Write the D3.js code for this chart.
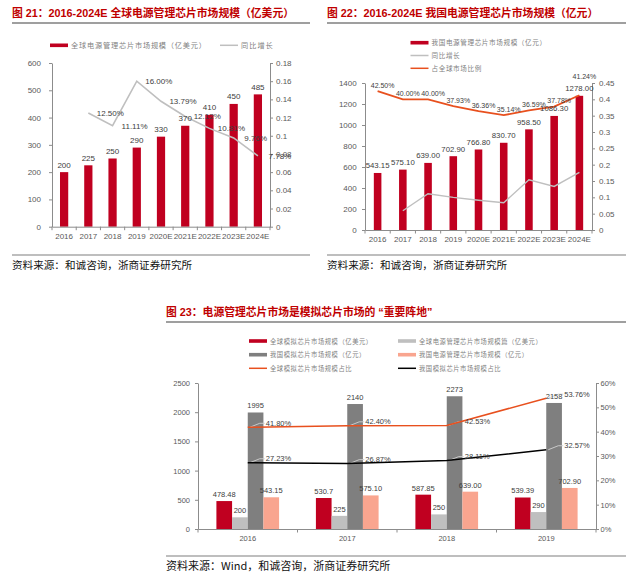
<!DOCTYPE html>
<html>
<head>
<meta charset="utf-8">
<script src="https://cdn.jsdelivr.net/npm/d3@7"></script>
<style>
body { margin: 0; background: #fff; }
svg text { font-family: "Liberation Sans", "Noto Sans CJK SC", sans-serif; }
</style>
</head>
<body>
<svg id="chart" width="640" height="575"></svg>
<script>
// ---- chart 21: global power management chip market (USD 100m)
var years1 = ["2016", "2017", "2018", "2019", "2020E", "2021E", "2022E", "2023E", "2024E"];
var globalPower = [200, 225, 250, 290, 330, 370, 410, 450, 485];
var globalGrowth = [null, 0.125, 0.1111, 0.16, 0.1379, 0.1212, 0.1081, 0.0976, 0.0778];
var leftTicks1 = [0, 100, 200, 300, 400, 500, 600];
var rightTicks1 = [0, 0.02, 0.04, 0.06, 0.08, 0.1, 0.12, 0.14, 0.16, 0.18];

// ---- chart 22: China power management chip market (RMB 100m)
var chinaPower = [543.15, 575.10, 639.00, 702.90, 766.80, 830.70, 958.50, 1086.30, 1278.00];
var chinaGrowth = [null, 0.0588, 0.1111, 0.1000, 0.0909, 0.0833, 0.1538, 0.1333, 0.1765];
var chinaShare = [0.4250, 0.4000, 0.4000, 0.3793, 0.3636, 0.3514, 0.3659, 0.3778, 0.4124];
var leftTicks2 = [0, 200, 400, 600, 800, 1000, 1200, 1400];
var rightTicks2 = [0, 0.05, 0.1, 0.15, 0.2, 0.25, 0.3, 0.35, 0.4, 0.45];

// ---- chart 23: analog vs power management
var years3 = ["2016", "2017", "2018", "2019"];
var globalAnalog = [478.48, 530.7, 587.85, 539.39];
var globalPower3 = [200, 225, 250, 290];
var chinaAnalog = [1995, 2140, 2273, 2158];
var chinaPower3 = [543.15, 575.10, 639.00, 702.90];
var globalAnalogShare = [0.4180, 0.4240, 0.4253, 0.5376];
var chinaAnalogShare = [0.2723, 0.2687, 0.2811, 0.3257];
var leftTicks3 = [0, 500, 1000, 1500, 2000, 2500];
var rightTicks3 = [0, 0.1, 0.2, 0.3, 0.4, 0.5, 0.6];

var RED = "#C00020", ORANGE = "#E8501E", LGRAY = "#BFBFBF", DGRAY = "#7F7F7F", SALMON = "#F9A58F";
var AXIS = "#8C8C8C", TICKTXT = "#595959", LBL = "#404040", LEGTXT = "#7F7F7F";

var svg = d3.select("#chart");

function styleAxis(g, fs) {
  g.select(".domain").attr("stroke", AXIS);
  g.selectAll(".tick line").attr("stroke", AXIS);
  g.selectAll(".tick text").attr("fill", TICKTXT).attr("font-size", fs)
   .style("font-family", "Liberation Sans, sans-serif");
}

function header(x1, x2, y, txt) {
  svg.append("text").attr("x", x1).attr("y", y).attr("fill", "#C00000")
     .attr("font-size", 10.8).attr("font-weight", "bold").text(txt);
  svg.append("line").attr("x1", x1).attr("x2", x2).attr("y1", y + 6).attr("y2", y + 6)
     .attr("stroke", "#7F7F7F").attr("stroke-width", 1.5);
}

function footer(x1, x2, y, txt, fs) {
  svg.append("line").attr("x1", x1).attr("x2", x2).attr("y1", y - 14).attr("y2", y - 14)
     .attr("stroke", "#7F7F7F").attr("stroke-width", 1.2);
  svg.append("text").attr("x", x1).attr("y", y).attr("fill", "#111")
     .attr("font-size", fs).style("font-family", "Noto Sans CJK SC, sans-serif").text(txt);
}

function legendItem(x, y, kind, color, txt, fs, ls) {
  if (kind == "rect") {
    svg.append("rect").attr("x", x).attr("y", y - 1.8).attr("width", 18).attr("height", 3.6).attr("fill", color);
  } else {
    svg.append("line").attr("x1", x).attr("x2", x + 18).attr("y1", y).attr("y2", y)
       .attr("stroke", color).attr("stroke-width", 1.5);
  }
  svg.append("text").attr("x", x + 21).attr("y", y + 2.5).attr("fill", LEGTXT)
     .attr("font-size", fs).attr("letter-spacing", ls)
     .style("font-family", "Noto Sans CJK SC, sans-serif").text(txt);
}

function boundaryTicks(x, n, y) {
  var step = x.step(), x0 = x.range()[0];
  for (var i = 0; i <= n; i++) {
    svg.append("line").attr("x1", x0 + i * step).attr("x2", x0 + i * step)
       .attr("y1", y).attr("y2", y + 3.5).attr("stroke", AXIS);
  }
}

function fmtNum(d) { return String(+d.toFixed(2)); }
function pct(d) { return (d * 100).toFixed(2) + "%"; }
var intFmt = d3.format("d");

// ================= chart 21 =================
header(12, 310, 17, "图 21：2016-2024E 全球电源管理芯片市场规模（亿美元）");
legendItem(50, 45.3, "rect", RED, "全球电源管理芯片市场规模（亿美元）", 7.2, 0.8);
legendItem(220, 45.3, "line", LGRAY, "同比增长", 7.2, 1);

var x1 = d3.scaleBand().domain(years1).range([52, 270]).paddingInner(0.66).paddingOuter(0.33);
var yL1 = d3.scaleLinear().domain([0, 600]).range([226.7, 63]);
var yR1 = d3.scaleLinear().domain([0, 0.18]).range([226.7, 63]);

var c1 = svg.append("g");
c1.selectAll("rect.bar").data(globalPower).enter().append("rect")
  .attr("x", function(d, i) { return x1(years1[i]); })
  .attr("y", function(d) { return yL1(d); })
  .attr("width", x1.bandwidth())
  .attr("height", function(d) { return yL1(0) - yL1(d); })
  .attr("fill", RED);

c1.append("g").attr("transform", "translate(52,0)")
  .call(d3.axisLeft(yL1).tickValues(leftTicks1).tickSize(3).tickSizeOuter(0).tickPadding(8).tickFormat(intFmt))
  .call(styleAxis, 8);
c1.append("g").attr("transform", "translate(270,0)")
  .call(d3.axisRight(yR1).tickValues(rightTicks1).tickSize(3).tickSizeOuter(0).tickPadding(3).tickFormat(fmtNum))
  .call(styleAxis, 8);
c1.append("g").attr("transform", "translate(0,226.7)")
  .call(d3.axisBottom(x1).tickSize(0).tickPadding(6.6))
  .call(styleAxis, 8);
boundaryTicks(x1, years1.length, 226.7);

var line1 = d3.line().defined(function(d) { return d != null; })
  .x(function(d, i) { return x1(years1[i]) + x1.bandwidth() / 2; })
  .y(function(d) { return yR1(d); });
c1.append("path").datum(globalGrowth).attr("d", line1)
  .attr("fill", "none").attr("stroke", LGRAY).attr("stroke-width", 1.6);

c1.selectAll("text.blab").data(globalPower).enter().append("text")
  .attr("x", function(d, i) { return x1(years1[i]) + x1.bandwidth() / 2; })
  .attr("y", function(d) { return yL1(d) - 4.5; })
  .attr("text-anchor", "middle").attr("font-size", 8).attr("fill", LBL)
  .text(function(d) { return d; });

c1.selectAll("text.glab").data(globalGrowth.filter(function(d) { return d != null; })).enter().append("text")
  .attr("x", function(d, i) { return x1(years1[i + 1]) + x1.bandwidth() / 2 + 22; })
  .attr("y", function(d) { return yR1(d) + 3; })
  .attr("text-anchor", "middle").attr("font-size", 8).attr("fill", LBL)
  .text(pct);

footer(12, 310, 269, "资料来源：和诚咨询，浙商证券研究所", 10.6);

// ================= chart 22 =================
header(327, 626, 17, "图 22：2016-2024E 我国电源管理芯片市场规模（亿元）");
legendItem(410.5, 42.7, "rect", RED, "我国电源管理芯片市场规模（亿元）", 6.6, 0.6);
legendItem(410.5, 55.5, "line", LGRAY, "同比增长", 6.6, 0.6);
legendItem(410.5, 68.3, "line", ORANGE, "占全球市场比例", 6.6, 0.6);

var x2 = d3.scaleBand().domain(years1).range([365, 592]).paddingInner(0.7).paddingOuter(0.35);
var yL2 = d3.scaleLinear().domain([0, 1400]).range([230, 83]);
var yR2 = d3.scaleLinear().domain([0, 0.45]).range([230, 83]);

var c2 = svg.append("g");
c2.selectAll("rect.bar").data(chinaPower).enter().append("rect")
  .attr("x", function(d, i) { return x2(years1[i]); })
  .attr("y", function(d) { return yL2(d); })
  .attr("width", x2.bandwidth())
  .attr("height", function(d) { return yL2(0) - yL2(d); })
  .attr("fill", RED);

c2.append("g").attr("transform", "translate(365,0)")
  .call(d3.axisLeft(yL2).tickValues(leftTicks2).tickSize(3).tickSizeOuter(0).tickPadding(5.3).tickFormat(intFmt))
  .call(styleAxis, 8);
c2.append("g").attr("transform", "translate(592,0)")
  .call(d3.axisRight(yR2).tickValues(rightTicks2).tickSize(3).tickSizeOuter(0).tickPadding(4).tickFormat(fmtNum))
  .call(styleAxis, 8);
c2.append("g").attr("transform", "translate(0,230)")
  .call(d3.axisBottom(x2).tickSize(0).tickPadding(6.6))
  .call(styleAxis, 8);
boundaryTicks(x2, years1.length, 230);

function line2(yScale) {
  return d3.line().defined(function(d) { return d != null; })
    .x(function(d, i) { return x2(years1[i]) + x2.bandwidth() / 2; })
    .y(function(d) { return yScale(d); });
}
c2.append("path").datum(chinaGrowth).attr("d", line2(yR2))
  .attr("fill", "none").attr("stroke", LGRAY).attr("stroke-width", 1.4);
c2.append("path").datum(chinaShare).attr("d", line2(yR2))
  .attr("fill", "none").attr("stroke", ORANGE).attr("stroke-width", 1.8);

c2.selectAll("text.blab").data(chinaPower).enter().append("text")
  .attr("x", function(d, i) { return x2(years1[i]) + x2.bandwidth() / 2; })
  .attr("y", function(d) { return yL2(d) - 4.5; })
  .attr("text-anchor", "middle").attr("font-size", 7.8).attr("fill", LBL)
  .text(function(d) { return d.toFixed(2); });

c2.selectAll("text.slab").data(chinaShare).enter().append("text")
  .attr("x", function(d, i) { return x2(years1[i]) + x2.bandwidth() / 2 + 5; })
  .attr("y", function(d, i) { return yR2(d) - (i == 8 ? 16 : 3.5); })
  .attr("text-anchor", "middle").attr("font-size", 7).attr("fill", LBL)
  .text(pct);

footer(327, 626, 269, "资料来源：和诚咨询，浙商证券研究所", 10.6);

// ================= chart 23 =================
header(166, 626, 316, "图 23：电源管理芯片市场是模拟芯片市场的 “重要阵地”");
legendItem(249, 341, "rect", RED, "全球模拟芯片市场规模（亿美元）", 6.3, 0.55);
legendItem(398, 341, "rect", LGRAY, "全球电源管理芯片市场规模篇（亿美元）", 6.3, 0.55);
legendItem(249, 354.7, "rect", DGRAY, "我国模拟芯片市场规模（亿元）", 6.3, 0.55);
legendItem(398, 354.7, "rect", SALMON, "我国电源管理芯片市场规模（亿元）", 6.3, 0.55);
legendItem(249, 368.3, "line", ORANGE, "全球模拟芯片市场规模占比", 6.3, 0.55);
legendItem(398, 368.3, "line", "#000", "我国模拟芯片市场规模占比", 6.3, 0.55);

var x3 = d3.scaleBand().domain(years3).range([198, 596]).paddingInner(0.37).paddingOuter(0.185);
var series3 = [
  { vals: globalAnalog, color: RED, fmt: function(d) { return String(d); } },
  { vals: globalPower3, color: LGRAY, fmt: function(d) { return String(d); } },
  { vals: chinaAnalog, color: DGRAY, fmt: function(d) { return String(d); } },
  { vals: chinaPower3, color: SALMON, fmt: function(d) { return d.toFixed(2); } }
];
var xs3 = d3.scaleBand().domain(d3.range(series3.length)).range([0, x3.bandwidth()]);
var yL3 = d3.scaleLinear().domain([0, 2500]).range([529, 383]);
var yR3 = d3.scaleLinear().domain([0, 0.6]).range([529, 383]);

var c3 = svg.append("g");
series3.forEach(function(s, k) {
  c3.selectAll(null).data(s.vals).enter().append("rect")
    .attr("x", function(d, i) { return x3(years3[i]) + xs3(k); })
    .attr("y", function(d) { return yL3(d); })
    .attr("width", xs3.bandwidth())
    .attr("height", function(d) { return yL3(0) - yL3(d); })
    .attr("fill", s.color);
});

c3.append("g").attr("transform", "translate(198,0)")
  .call(d3.axisLeft(yL3).tickValues(leftTicks3).tickSize(3).tickSizeOuter(0).tickPadding(5).tickFormat(intFmt))
  .call(styleAxis, 7.5);
c3.append("g").attr("transform", "translate(596,0)")
  .call(d3.axisRight(yR3).tickValues(rightTicks3).tickSize(3).tickSizeOuter(0).tickPadding(1.5).tickFormat(d3.format(".0%")))
  .call(styleAxis, 7.5);
c3.append("g").attr("transform", "translate(0,529)")
  .call(d3.axisBottom(x3).tickSize(0).tickPadding(6.7))
  .call(styleAxis, 7.5);
boundaryTicks(x3, years3.length, 529);

function line3() {
  return d3.line()
    .x(function(d, i) { return x3(years3[i]) + x3.bandwidth() / 2; })
    .y(function(d) { return yR3(d); });
}

[{ vals: globalAnalogShare, color: ORANGE }, { vals: chinaAnalogShare, color: "#000" }].forEach(function(s) {
  // leader lines for the labels
  c3.selectAll(null).data(s.vals).enter().append("path")
    .attr("d", function(d, i) {
      var px = x3(years3[i]) + x3.bandwidth() / 2, py = yR3(d);
      return "M" + (px + 2) + "," + py + "L" + (px + 12) + "," + (py - 4) + "L" + (px + 17) + "," + (py - 4);
    })
    .attr("fill", "none").attr("stroke", "#D0D0D0").attr("stroke-width", 0.9);
  c3.append("path").datum(s.vals).attr("d", line3())
    .attr("fill", "none").attr("stroke", s.color).attr("stroke-width", 1.5);
});

series3.forEach(function(s, k) {
  c3.selectAll(null).data(s.vals).enter().append("text")
    .attr("x", function(d, i) { return x3(years3[i]) + xs3(k) + xs3.bandwidth() / 2; })
    .attr("y", function(d) { return yL3(d) - 4; })
    .attr("text-anchor", "middle").attr("font-size", 7.5).attr("fill", LBL)
    .text(s.fmt);
});

[globalAnalogShare, chinaAnalogShare].forEach(function(vals) {
  c3.selectAll(null).data(vals).enter().append("text")
    .attr("x", function(d, i) { return x3(years3[i]) + x3.bandwidth() / 2 + 18; })
    .attr("y", function(d) { return yR3(d) - 1.5; })
    .attr("font-size", 7.5).attr("fill", LBL)
    .text(pct);
});

footer(166, 626, 570, "资料来源：Wind，和诚咨询，浙商证券研究所", 11);
</script>
</body>
</html>
